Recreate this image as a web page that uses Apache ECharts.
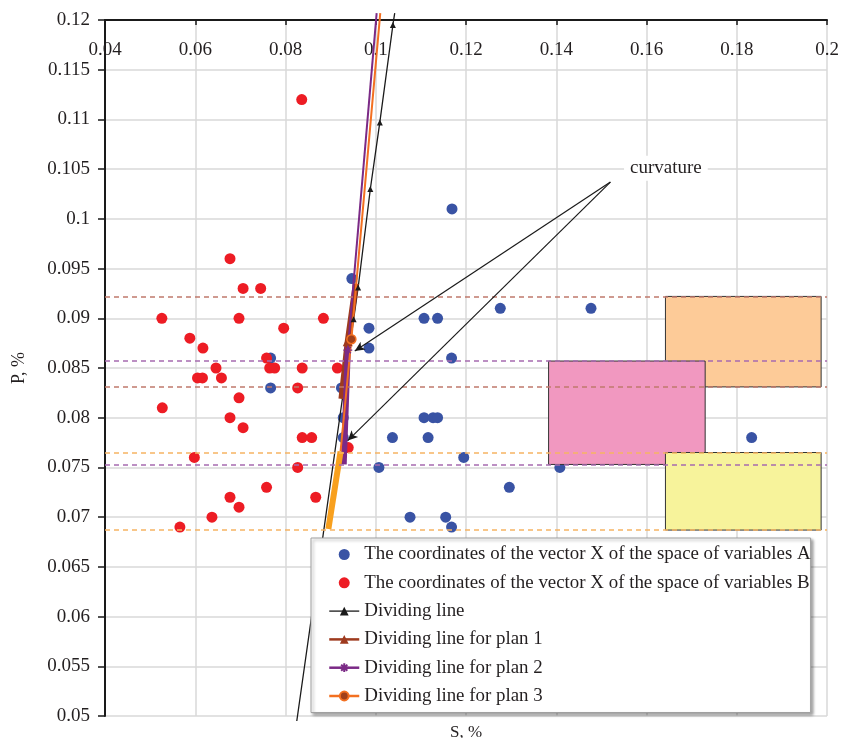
<!DOCTYPE html>
<html><head><meta charset="utf-8">
<script src="https://cdn.jsdelivr.net/npm/echarts@6/dist/echarts.min.js"></script>
<style>html,body{margin:0;padding:0;background:#fff}#c{width:842px;height:738px}</style>
</head><body><div id="c"></div>
<script>
// ---------- data ----------
const nameA = 'The coordinates of the vector X of the space of variables A';
const nameB = 'The coordinates of the vector X of the space of variables B';
const nameDiv = 'Dividing line';
const namePlan1 = 'Dividing line for plan 1';
const namePlan2 = 'Dividing line for plan 2';
const namePlan3 = 'Dividing line for plan 3';

const pointsA = [
  [0.1169,0.101],[0.0947,0.094],[0.1276,0.091],[0.1477,0.091],
  [0.1107,0.090],[0.1137,0.090],[0.0985,0.089],[0.0985,0.087],
  [0.1168,0.086],[0.0767,0.086],[0.0767,0.083],[0.0924,0.083],
  [0.0928,0.080],[0.1107,0.080],[0.1127,0.080],[0.1137,0.080],
  [0.0928,0.078],[0.1037,0.078],[0.1116,0.078],[0.1833,0.078],
  [0.1195,0.076],[0.1007,0.075],[0.1408,0.075],[0.1296,0.073],
  [0.1076,0.070],[0.1155,0.070],[0.1168,0.069]
];
const pointsB = [
  [0.0836,0.112],[0.0677,0.096],[0.0706,0.093],[0.0745,0.093],
  [0.0526,0.090],[0.0697,0.090],[0.0884,0.090],[0.0796,0.089],
  [0.0588,0.088],[0.0617,0.087],[0.0758,0.086],[0.0646,0.085],
  [0.0765,0.085],[0.0776,0.085],[0.0837,0.085],[0.0915,0.085],
  [0.0605,0.084],[0.0616,0.084],[0.0658,0.084],[0.0827,0.083],
  [0.0697,0.082],[0.0527,0.081],[0.0677,0.080],[0.0706,0.079],
  [0.0837,0.078],[0.0858,0.078],[0.0939,0.077],[0.0598,0.076],
  [0.0827,0.075],[0.0758,0.073],[0.0677,0.072],[0.0867,0.072],
  [0.0697,0.071],[0.0637,0.070],[0.0566,0.069]
];
const dividingLine = [[0.1042,0.1207],[0.1038,0.1195],[0.1009,0.1097],[0.0988,0.1030],[0.0961,0.0931],[0.0951,0.0899],[0.0825,0.0495]];
const plan1Line = [[0.0956,0.0935],[0.0938,0.0877],[0.0924,0.0819]];
const plan2Upper = [[0.1002,0.1207],[0.0938,0.0868]];
const plan2Lower = [[0.0938,0.0868],[0.0929,0.0753]];
const plan3Upper = [[0.1010,0.1207],[0.0946,0.0879],[0.0922,0.0766]];
const plan3Lower = [[0.0922,0.0766],[0.0895,0.0688]];

const plan1Bounds = [0.0831, 0.0922];
const plan2Bounds = [0.0753, 0.0857];
const plan3Bounds = [0.0687, 0.0765];
const plan1BoxS = [0.1642, 0.1987];
const plan2BoxS = [0.1383, 0.1730];
const plan3BoxS = [0.1642, 0.1987];

const curvatureText = 'curvature';
const curvatureAt = [0.1643, 0.1051];
const arrowFrom = [0.1520, 0.1037];
const arrowTargets = [[0.09535, 0.0867], [0.0938, 0.0777]];

const xMin = 0.04, xMax = 0.2, xStep = 0.02;
const yMin = 0.05, yMax = 0.12, yStep = 0.005;

// ---------- chart ----------
const FONT = 'Liberation Serif';
const C = {
  blue:'#3953A4', red:'#ED1C24', black:'#1a1a1a', brown:'#9E3A1E', purple:'#7B2A86',
  orange:'#F37021', orangeThick:'#F8A01E', circleFill:'#A0401A',
  dashBrown:'#C07A6C', dashPurple:'#A66BB0', dashOrange:'#F6B463',
  peach:'#FDCB98', pink:'#F198C0', yellow:'#F7F39B', grid:'#D9D9D9'
};
const asterisk = 'path://M0,5L10,5M5,0L5,10M1.5,1.5L8.5,8.5M8.5,1.5L1.5,8.5';

function marked(arr, idxs) {
  return arr.map((p, i) => idxs.indexOf(i) >= 0 ? p : {value: p, symbol: 'none'});
}

const chart = echarts.init(document.getElementById('c'), null, {renderer: 'canvas'});
const dash = (c) => ({color: c, type: [5, 4], width: 1.5});
const option = {
  animation: false,
  textStyle: {fontFamily: FONT},
  grid: {left: 105, right: 15, top: 20, bottom: 22, containLabel: false, outerBoundsMode: 'none'},
  xAxis: [{
    type: 'value', position: 'top', min: xMin, max: xMax, interval: xStep,
    axisLine: {show: true, onZero: false, lineStyle: {color: C.black, width: 2}},
    axisTick: {show: true, inside: true, length: 5, lineStyle: {color: C.black, width: 1.5}},
    axisLabel: {inside: true, margin: 21, color: '#231F20', fontSize: 19, fontFamily: FONT, showMinLabel: true, showMaxLabel: true},
    splitLine: {show: true, lineStyle: {color: C.grid, width: 1.5}}
  }, {
    type: 'value', position: 'bottom', min: xMin, max: xMax, interval: xStep,
    name: 'S, %', nameLocation: 'middle', nameGap: 8,
    nameTextStyle: {fontFamily: FONT, fontSize: 17, color: '#231F20'},
    axisLine: {show: false}, axisTick: {show: false}, axisLabel: {show: false}, splitLine: {show: false}
  }],
  yAxis: {
    type: 'value', min: yMin, max: yMax, interval: yStep,
    name: 'P, %', nameLocation: 'middle', nameGap: 77, nameRotate: 90,
    nameTextStyle: {fontFamily: FONT, fontSize: 18, color: '#231F20'},
    axisLine: {show: true, onZero: false, lineStyle: {color: C.black, width: 2}},
    axisTick: {show: true, inside: false, length: 7, lineStyle: {color: C.black, width: 1.5}},
    axisLabel: {margin: 15, color: '#231F20', fontSize: 19, fontFamily: FONT},
    splitLine: {show: true, lineStyle: {color: C.grid, width: 1.5}}
  },
  legend: {
    orient: 'vertical', left: 311, top: 538,
    padding: [7, 0, 7, 17], itemGap: 9.3, itemWidth: 30, itemHeight: 11,
    backgroundColor: '#fff', borderColor: '#A0A0A0', borderWidth: 1,
    shadowColor: 'rgba(0,0,0,0.35)', shadowBlur: 3, shadowOffsetX: 2, shadowOffsetY: 2,
    textStyle: {fontFamily: FONT, fontSize: 18.9, color: '#231F20'},
    data: [
      {name: nameA, icon: 'circle'},
      {name: nameB, icon: 'circle'},
      {name: nameDiv, lineStyle: {width: 1.3}},
      {name: namePlan1, lineStyle: {width: 2.5}},
      {name: namePlan2, lineStyle: {width: 2.5}},
      {name: namePlan3, lineStyle: {width: 2.5}}
    ]
  },
  series: [
    {name: nameA, type: 'scatter', symbolSize: 11, itemStyle: {color: C.blue, opacity: 1}, data: pointsA, z: 2},
    {name: nameB, type: 'scatter', symbolSize: 11, itemStyle: {color: C.red, opacity: 1}, data: pointsB, z: 2},
    {
      type: 'line', data: [], silent: true, z: 1,
      markArea: {
        silent: true, z: 3,
        data: [
          [{xAxis: plan1BoxS[0], yAxis: plan1Bounds[1], itemStyle: {color: C.peach, borderColor: '#333', borderWidth: 1}}, {xAxis: plan1BoxS[1], yAxis: plan1Bounds[0]}],
          [{xAxis: plan2BoxS[0], yAxis: plan2Bounds[1], itemStyle: {color: C.pink, borderColor: '#333', borderWidth: 1}}, {xAxis: plan2BoxS[1], yAxis: plan2Bounds[0]}],
          [{xAxis: plan3BoxS[0], yAxis: plan3Bounds[1], itemStyle: {color: C.yellow, borderColor: '#333', borderWidth: 1}}, {xAxis: plan3BoxS[1], yAxis: plan3Bounds[0]}]
        ],
        label: {show: false}
      },
      markLine: {
        silent: true, symbol: ['none', 'none'], label: {show: false}, z: 4, precision: 6,
        data: [
          {yAxis: plan1Bounds[1], lineStyle: dash(C.dashBrown)},
          {yAxis: plan1Bounds[0], lineStyle: dash(C.dashBrown)},
          {yAxis: plan2Bounds[1], lineStyle: dash(C.dashPurple)},
          {yAxis: plan2Bounds[0], lineStyle: dash(C.dashPurple)},
          {yAxis: plan3Bounds[1], lineStyle: dash(C.dashOrange)},
          {yAxis: plan3Bounds[0], lineStyle: dash(C.dashOrange)}
        ]
      }
    },
    {
      name: nameDiv, type: 'line', clip: false, symbol: 'triangle', symbolSize: 6,
      itemStyle: {color: C.black}, lineStyle: {color: C.black, width: 1.3},
      data: marked(dividingLine, [1, 2, 3, 4, 5]), z: 3
    },
    {
      name: namePlan1, type: 'line', clip: false, symbol: 'triangle', symbolSize: 10,
      itemStyle: {color: C.brown}, lineStyle: {color: C.brown, width: 6},
      data: marked(plan1Line, [1]), z: 3
    },
    {
      name: namePlan2, type: 'line', clip: false, symbol: asterisk, symbolSize: 9,
      itemStyle: {color: C.purple, borderColor: C.purple, borderWidth: 1.2},
      lineStyle: {color: C.purple, width: 2},
      data: marked(plan2Upper, [1]), z: 3
    },
    {
      name: 'plan2-segment', type: 'line', clip: false, symbol: 'none',
      lineStyle: {color: C.purple, width: 6}, itemStyle: {color: C.purple},
      data: plan2Lower, z: 3
    },
    {
      name: namePlan3, type: 'line', clip: false, symbol: 'circle', symbolSize: 9,
      itemStyle: {color: C.circleFill, borderColor: C.orange, borderWidth: 1.5},
      lineStyle: {color: C.orange, width: 2},
      data: marked(plan3Upper, [1]), z: 3
    },
    {
      name: 'plan3-segment', type: 'line', clip: false, symbol: 'none',
      lineStyle: {color: C.orangeThick, width: 6}, itemStyle: {color: C.orangeThick},
      data: plan3Lower, z: 3
    },
    {
      type: 'line', data: [], silent: true, z: 4,
      markLine: {
        silent: true, symbol: ['none', 'arrow'], symbolSize: [7, 10], z: 6, precision: 6,
        label: {show: false},
        lineStyle: {color: C.black, width: 1.2, type: 'solid'},
        data: arrowTargets.map(t => [{coord: arrowFrom}, {coord: t}])
      },
      markPoint: {
        silent: true, z: 6, symbol: 'rect', symbolSize: 1,
        itemStyle: {color: 'rgba(0,0,0,0)'},
        label: {
          show: true, position: 'inside', formatter: curvatureText,
          fontFamily: FONT, fontSize: 19, color: '#231F20',
          backgroundColor: '#fff', padding: [3, 6]
        },
        data: [{coord: curvatureAt}]
      }
    }
  ]
};
chart.setOption(option);
</script></body></html>
